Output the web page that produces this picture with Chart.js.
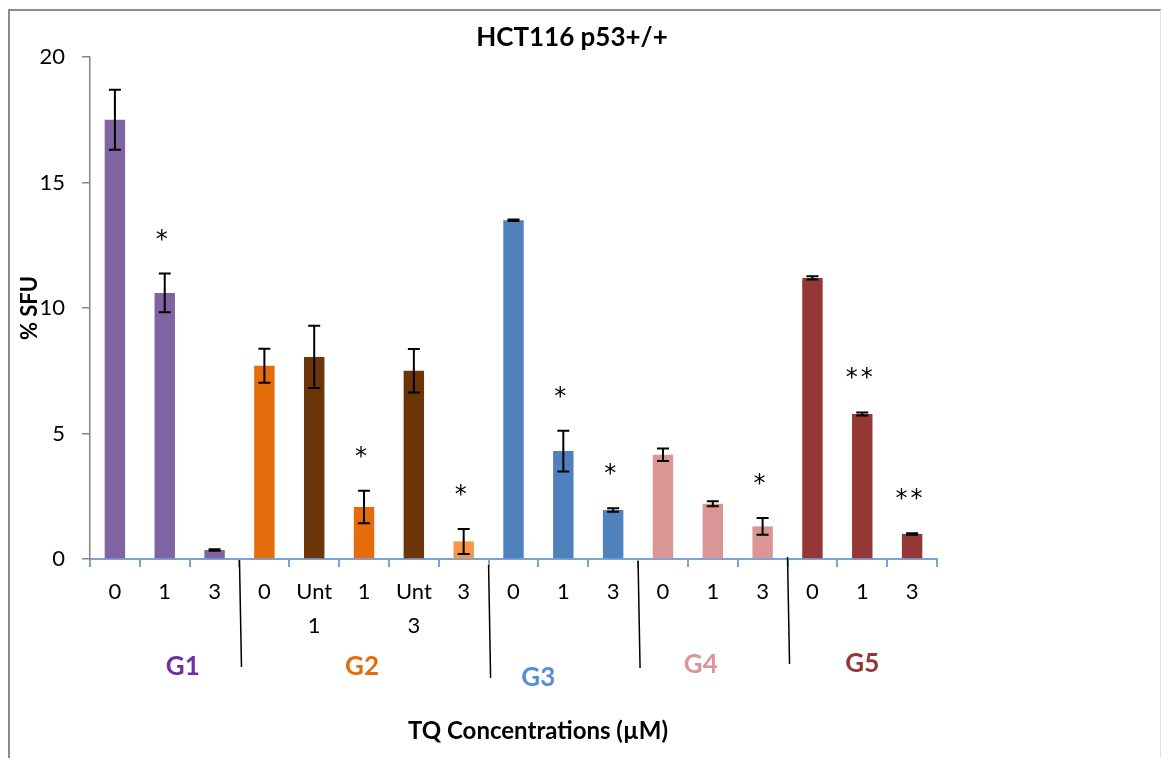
<!DOCTYPE html>
<html>
<head>
<meta charset="utf-8">
<title>HCT116 p53+/+</title>
<script src="https://cdn.jsdelivr.net/npm/chart.js@4.4.1/dist/chart.umd.min.js"></script>
<style>
  html, body { margin: 0; padding: 0; background: #fff; }
  #chart-wrap { width: 1161px; height: 758px; }
</style>
</head>
<body>
<div id="chart-wrap"><canvas id="sfuChart" width="1161" height="758"></canvas></div>
<script>
// TQ concentration per bar, grouped G1..G5
const concentrations = ['0', '1', '3', '0', ['Unt', '1'], '1', ['Unt', '3'], '3', '0', '1', '3', '0', '1', '3', '0', '1', '3'];
const sfuMeans = [17.5, 10.6, 0.36, 7.7, 8.05, 2.07, 7.5, 0.7, 13.5, 4.3, 1.95, 4.15, 2.2, 1.3, 11.2, 5.78, 1.0];
const sfuErrors = [1.2, 0.77, 0.03, 0.68, 1.24, 0.65, 0.87, 0.5, 0.03, 0.81, 0.07, 0.25, 0.1, 0.33, 0.06, 0.06, 0.03];
const significance = ['', '*', '', '', '', '*', '', '*', '', '*', '*', '', '', '*', '', '**', '**'];
const groupNames = ['G1', 'G2', 'G3', 'G4', 'G5'];
const groupSizes = [3, 5, 3, 3, 3];
const yTicks = [0, 5, 10, 15, 20];

// colours
const barColors = [
  '#8064A2', '#8064A2', '#8064A2',
  '#E46C0A', '#6B3409', '#E46C0A', '#6B3409', '#F79646',
  '#4F81BD', '#4F81BD', '#4F81BD',
  '#D99694', '#D99694', '#D99694',
  '#953735', '#953735', '#953735'
];
const groupLabelColors = ['#7030A0', '#E46C0A', '#558ED5', '#D99694', '#953735'];
// hand placement of group names / divider lines under the axis
const groupLabelShift = [{ dx: 18, y: 667 }, { dx: -2, y: 667 }, { dx: -25, y: 678 }, { dx: -12, y: 665 }, { dx: 0, y: 664 }];
const dividerEnds = [{ top: 560, bottom: 667 }, { top: 565, bottom: 678 }, { top: 561, bottom: 668 }, { top: 557, bottom: 664 }];

const FONT = 'Lato, "Open Sans", sans-serif';

const annotations = {
  id: 'annotations',
  afterDatasetsDraw(chart) {
    const ctx = chart.ctx;
    const y = chart.scales.y;
    const meta = chart.getDatasetMeta(0);
    ctx.save();
    // error bars
    ctx.strokeStyle = '#000';
    ctx.lineWidth = 2;
    meta.data.forEach((bar, i) => {
      const top = y.getPixelForValue(sfuMeans[i] + sfuErrors[i]);
      const bot = y.getPixelForValue(sfuMeans[i] - sfuErrors[i]);
      ctx.beginPath();
      ctx.moveTo(bar.x, top); ctx.lineTo(bar.x, bot);
      ctx.moveTo(bar.x - 6, top); ctx.lineTo(bar.x + 6, top);
      ctx.moveTo(bar.x - 6, bot); ctx.lineTo(bar.x + 6, bot);
      ctx.stroke();
    });
    // significance stars, one glyph at a time so pairs sit close together
    ctx.fillStyle = '#000';
    ctx.font = '24px "DejaVu Sans", sans-serif';
    ctx.textAlign = 'center';
    ctx.textBaseline = 'alphabetic';
    meta.data.forEach((bar, i) => {
      const stars = significance[i];
      if (!stars) return;
      const top = y.getPixelForValue(sfuMeans[i] + sfuErrors[i]);
      const step = 15;
      for (let k = 0; k < stars.length; k++) {
        const sx = bar.x - 3 + (k - (stars.length - 1) / 2) * step;
        ctx.fillText('*', sx, top - 40 + 13);
      }
    });
    ctx.restore();
  },
  afterDraw(chart) {
    const ctx = chart.ctx;
    const x = chart.scales.x;
    ctx.save();
    // outer frame
    ctx.strokeStyle = '#8c8c8c';
    ctx.lineWidth = 2;
    ctx.beginPath();
    ctx.moveTo(9, 758); ctx.lineTo(9, 10); ctx.lineTo(1161, 10);
    ctx.stroke();
    ctx.strokeStyle = '#e0e0e0';
    ctx.lineWidth = 1;
    ctx.beginPath();
    ctx.moveTo(1160.5, 10); ctx.lineTo(1160.5, 758);
    ctx.stroke();

    // titles
    ctx.fillStyle = '#000';
    ctx.textAlign = 'center';
    ctx.textBaseline = 'middle';
    ctx.font = 'bold 26px ' + FONT;
    ctx.fillText('HCT116 p53+/+', 572, 38);
    ctx.font = 'bold 24px ' + FONT;
    ctx.fillText('TQ Concentrations (µM)', 538, 731);
    ctx.save();
    ctx.translate(30, 308);
    ctx.rotate(-Math.PI / 2);
    ctx.font = 'bold 22px ' + FONT;
    ctx.fillText('% SFU', 0, 0);
    ctx.restore();

    // group dividers and names
    let start = 0;
    groupSizes.forEach((n, g) => {
      const first = x.getPixelForValue(start);
      const last = x.getPixelForValue(start + n - 1);
      const centre = (first + last) / 2;
      ctx.font = 'bold 26px ' + FONT;
      ctx.fillStyle = groupLabelColors[g];
      ctx.fillText(groupNames[g], centre + groupLabelShift[g].dx, groupLabelShift[g].y);
      if (g < groupSizes.length - 1) {
        const edge = (last + x.getPixelForValue(start + n)) / 2;
        ctx.strokeStyle = '#000';
        ctx.lineWidth = 1.5;
        ctx.beginPath();
        ctx.moveTo(edge, dividerEnds[g].top);
        ctx.lineTo(edge + 2, dividerEnds[g].bottom);
        ctx.stroke();
      }
      start += n;
    });
    ctx.restore();
  }
};

const ctx = document.getElementById('sfuChart').getContext('2d');
const sfuChart = new Chart(ctx, {
  type: 'bar',
  data: {
    labels: concentrations,
    datasets: [{
      data: sfuMeans,
      backgroundColor: barColors,
      borderWidth: 0,
      barPercentage: 0.82,
      categoryPercentage: 0.5
    }]
  },
  options: {
    responsive: false,
    devicePixelRatio: 1,
    animation: false,
    layout: { padding: { top: 57, right: 224, bottom: 0, left: 0 } },
    plugins: { legend: { display: false }, tooltip: { enabled: false } },
    scales: {
      x: {
        afterFit(scale) { scale.height = 199; },
        border: { color: '#7aa3d6', width: 2 },
        grid: { drawOnChartArea: false, drawTicks: true, tickLength: 8, color: '#7aa3d6', lineWidth: 2, offset: true },
        ticks: {
          color: '#000',
          padding: 8,
          maxRotation: 0,
          autoSkip: false,
          font: { family: FONT, size: 22, lineHeight: 1.55 }
        }
      },
      y: {
        min: 0,
        max: 20,
        afterFit(scale) { scale.width = 90; },
        afterBuildTicks(scale) { scale.ticks = yTicks.map(v => ({ value: v })); },
        border: { color: '#868686', width: 1.5 },
        grid: { drawOnChartArea: false, drawTicks: true, tickLength: 8, color: '#868686', lineWidth: 1.5 },
        ticks: {
          color: '#000',
          padding: 17,
          font: { family: FONT, size: 22 }
        }
      }
    }
  },
  plugins: [annotations]
});
</script>
</body>
</html>
